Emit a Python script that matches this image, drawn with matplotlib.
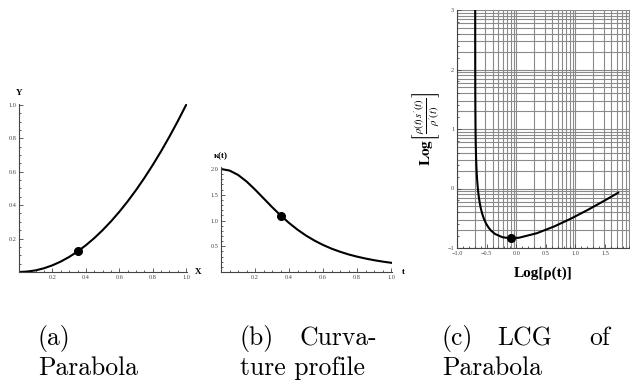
import matplotlib.pyplot as plt
import numpy as np
from matplotlib.ticker import MultipleLocator, FixedLocator

# (a) parabola points
para_x = [0, .05, .1, .15, .2, .25, .3, .35, .4, .45, .5, .55, .6, .65, .7, .75, .8, .85, .9, .95, 1.0]
para_y = [0, .0025, .01, .0225, .04, .0625, .09, .1225, .16, .2025, .25, .3025, .36, .4225, .49,
          .5625, .64, .7225, .81, .9025, 1.0]
para_pt = (0.354, 0.125)

# (b) curvature profile
curv_t = [0, .05, .1, .15, .2, .25, .3, .35, .4, .45, .5, .55, .6, .65, .7, .75, .8, .85, .9, .95, 1.0]
curv_k = [2.0, 1.970, 1.886, 1.758, 1.601, 1.431, 1.261, 1.100, 0.952, 0.821, 0.707, 0.609, 0.525,
          0.453, 0.393, 0.341, 0.298, 0.261, 0.229, 0.202, 0.179]
curv_pt = (0.354, 1.089)

# (c) LCG of the parabola
lcg_x = [-0.6930, -0.6929, -0.6925, -0.6918, -0.6907, -0.6877, -0.6835, -0.6782, -0.6717, -0.6640,
         -0.6552, -0.6453, -0.6343, -0.6158, -0.5950, -0.5720, -0.5469, -0.5103, -0.4705, -0.4277,
         -0.3584, -0.2319, -0.0849, 0.0489, 0.3466, 0.6449, 0.9347, 1.2115, 1.4737, 1.7210]
lcg_y = [3.0367, 2.6313, 2.1209, 1.7162, 1.4295, 1.0271, 0.7436, 0.5257, 0.3500, 0.2035,
         0.0787, -0.0291, -0.1235, -0.2448, -0.3467, -0.4328, -0.5061, -0.5873, -0.6529, -0.7053,
         -0.7639, -0.8197, -0.8370, -0.8266, -0.7520, -0.6361, -0.5005, -0.3571, -0.2127, -0.0708]
lcg_pt = (-0.085, -0.837)

captions = [("(a)", "Parabola"), ("(b)", "Curva-", "ture profile"), ("(c)", "LCG", "of", "Parabola")]

plt.rcParams['mathtext.fontset'] = 'stix'
tick_font = {'family': 'Liberation Serif', 'size': 4.5}
lab_font = {'family': 'Liberation Serif', 'weight': 'bold'}

fig = plt.figure(figsize=(6.3, 3.84), dpi=100)


def mma_axes(ax):
    # Mathematica style axes through the origin
    for s in ['top', 'right']:
        ax.spines[s].set_visible(False)
    for s in ['left', 'bottom']:
        ax.spines[s].set_linewidth(0.8)
        ax.spines[s].set_color('#444444')
    ax.tick_params(which='both', direction='in', color='#444444', width=0.6, pad=2)
    ax.tick_params(which='major', length=3)
    ax.tick_params(which='minor', length=1.5)
    for lab in ax.get_xticklabels() + ax.get_yticklabels():
        lab.set_fontfamily(tick_font['family'])
        lab.set_fontsize(tick_font['size'])
        lab.set_color('#444444')


# panel a
ax1 = fig.add_axes([19 / 630, 1 - 272 / 384, 168 / 630, 168 / 384])
ax1.plot(para_x, para_y, color='black', lw=1.5, solid_capstyle='round')
ax1.plot(*para_pt, 'o', color='black', ms=5.5)
ax1.set_xlim(0, 1.005)
ax1.set_ylim(0, 1.005)
ax1.xaxis.set_major_locator(FixedLocator([0.2, 0.4, 0.6, 0.8, 1.0]))
ax1.yaxis.set_major_locator(FixedLocator([0.2, 0.4, 0.6, 0.8, 1.0]))
ax1.xaxis.set_minor_locator(MultipleLocator(0.05))
ax1.yaxis.set_minor_locator(MultipleLocator(0.05))
mma_axes(ax1)
ax1.text(0, 1.07, 'Y', ha='center', va='center', fontsize=6.5, **lab_font)
ax1.text(1.07, 0, 'X', ha='center', va='center', fontsize=6.5, **lab_font)

# panel b
ax2 = fig.add_axes([221 / 630, 1 - 272 / 384, 171 / 630, 103 / 384 * 1.015])
ax2.plot(curv_t, curv_k, color='black', lw=1.5)
ax2.plot(*curv_pt, 'o', color='black', ms=5.5)
ax2.set_xlim(0, 1.005)
ax2.set_ylim(0, 2.03)
ax2.xaxis.set_major_locator(FixedLocator([0.2, 0.4, 0.6, 0.8, 1.0]))
ax2.yaxis.set_major_locator(FixedLocator([0.5, 1.0, 1.5, 2.0]))
ax2.xaxis.set_minor_locator(MultipleLocator(0.05))
ax2.yaxis.set_minor_locator(MultipleLocator(0.1))
mma_axes(ax2)
ax2.text(0.0, 2.25, 'κ(t)', ha='center', va='center', fontsize=6.5, **lab_font)
ax2.text(1.07, 0, 't', ha='center', va='center', fontsize=6.5, **lab_font)

# panel c
ax3 = fig.add_axes([457 / 630, 1 - 248 / 384, 173 / 630, 238 / 384])
grid_x = [n + np.log10(k) for n in range(-1, 2) for k in range(1, 10)]
grid_y = [n + np.log10(k) for n in range(-1, 3) for k in range(1, 10)] + [3]
for gx in grid_x:
    ax3.axvline(gx, color='#8a8a8a', lw=0.8, zorder=1)
for gy in grid_y:
    ax3.axhline(gy, color='#8a8a8a', lw=0.8, zorder=1)
ax3.plot(lcg_x, lcg_y, color='black', lw=1.5, zorder=3)
ax3.plot(*lcg_pt, 'o', color='black', ms=5.5, zorder=4)
ax3.set_xlim(-1, 1.92)
ax3.set_ylim(-1, 3)
ax3.xaxis.set_major_locator(FixedLocator([-1.0, -0.5, 0.0, 0.5, 1.0, 1.5]))
ax3.xaxis.set_major_formatter(plt.FuncFormatter(lambda v, p: f'{v:.1f}'.replace('-', '\u2212')))
ax3.yaxis.set_major_locator(FixedLocator([-1, 0, 1, 2, 3]))
ax3.yaxis.set_major_formatter(plt.FuncFormatter(lambda v, p: f'{v:.0f}'.replace('-', '\u2212')))
ax3.xaxis.set_minor_locator(MultipleLocator(0.1))
ax3.yaxis.set_minor_locator(MultipleLocator(0.2))
mma_axes(ax3)
ax3.set_xlabel('Log[ρ(t)]', fontsize=11, labelpad=8, **lab_font)
ax3.set_ylabel(r'$\mathbf{Log}\left[\frac{\rho(t)\,s^{\prime}(t)}{\rho^{\prime}(t)}\right]$',
               fontsize=11, labelpad=4)

# captions (justified columns, placed piece by piece)
cap_font = {'family': 'cmr10', 'size': 18.5}
row1 = 1 - 345 / 384
row2 = 1 - 375 / 384
fig.text(38 / 630, row1, captions[0][0], ha='left', va='baseline', **cap_font)
fig.text(38 / 630, row2, captions[0][1], ha='left', va='baseline', **cap_font)
fig.text(240 / 630, row1, captions[1][0], ha='left', va='baseline', **cap_font)
fig.text(377 / 630, row1, captions[1][1], ha='right', va='baseline', **cap_font)
fig.text(240 / 630, row2, captions[1][2], ha='left', va='baseline', **cap_font)
fig.text(442 / 630, row1, captions[2][0], ha='left', va='baseline', **cap_font)
fig.text(525 / 630, row1, captions[2][1], ha='center', va='baseline', **cap_font)
fig.text(610 / 630, row1, captions[2][2], ha='right', va='baseline', **cap_font)
fig.text(442 / 630, row2, captions[2][3], ha='left', va='baseline', **cap_font)

fig.savefig('out.png', dpi=100)
